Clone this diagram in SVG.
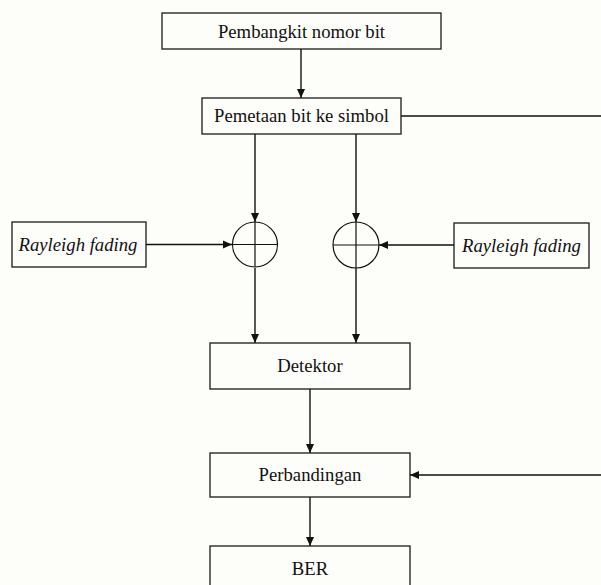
<svg xmlns="http://www.w3.org/2000/svg" width="601" height="585" viewBox="0 0 601 585">
  <style>
    .box { fill: none; stroke: #1a1a1a; stroke-width: 1.3; }
    .txt { font-family: "Liberation Serif", "Times New Roman", serif; font-size: 18.7px; fill: #111; text-anchor: middle; }
    .it { font-style: italic; }
    .ln { fill: none; stroke: #111; stroke-width: 1.4; }
    .sum { fill: none; stroke: #111; stroke-width: 1.2; }
  </style>
  <defs>
    <marker id="arr" markerWidth="10" markerHeight="10" refX="9" refY="5" orient="auto" markerUnits="userSpaceOnUse">
      <path d="M0,1 L9,5 L0,9 Z" fill="#111"/>
    </marker>
  </defs>
  <rect width="601" height="585" fill="#fdfdf9"/>

  <g id="connectors">
    <path class="ln" d="M301,49 V98" marker-end="url(#arr)"/>
    <path class="ln" d="M255,134 V222" marker-end="url(#arr)"/>
    <path class="ln" d="M356,134 V222" marker-end="url(#arr)"/>
    <path class="ln" d="M146,244.5 H232" marker-end="url(#arr)"/>
    <path class="ln" d="M454,245 H379" marker-end="url(#arr)"/>
    <path class="ln" d="M255,268 V343" marker-end="url(#arr)"/>
    <path class="ln" d="M356,268 V343" marker-end="url(#arr)"/>
    <path class="ln" d="M310,389 V453" marker-end="url(#arr)"/>
    <path class="ln" d="M310,497 V546" marker-end="url(#arr)"/>
    <path class="ln" d="M401,116 H604 V475 H410" marker-end="url(#arr)"/>
  </g>

  <g id="pembangkit">
    <rect class="box" x="162" y="13" width="279" height="36"/>
    <text class="txt" x="301.5" y="37.5">Pembangkit nomor bit</text>
  </g>
  <g id="pemetaan">
    <rect class="box" x="202" y="98" width="199" height="36"/>
    <text class="txt" x="301.5" y="122">Pemetaan bit ke simbol</text>
  </g>
  <g id="rayleigh-left">
    <rect class="box" x="12" y="222" width="134" height="45"/>
    <text class="txt it" x="78" y="251">Rayleigh fading</text>
  </g>
  <g id="sum-left">
    <circle class="sum" cx="255" cy="244.5" r="22.5"/>
    <path class="sum" d="M255,222 V267 M232.5,244.5 H277.5"/>
  </g>
  <g id="sum-right">
    <circle class="sum" cx="356" cy="245" r="23"/>
    <path class="sum" d="M356,222 V268 M333,245 H379"/>
  </g>
  <g id="rayleigh-right">
    <rect class="box" x="454" y="223" width="135" height="45"/>
    <text class="txt it" x="521.5" y="252">Rayleigh fading</text>
  </g>
  <g id="detektor">
    <rect class="box" x="210" y="343" width="200" height="46"/>
    <text class="txt" x="310" y="372">Detektor</text>
  </g>
  <g id="perbandingan">
    <rect class="box" x="210" y="453" width="200" height="44"/>
    <text class="txt" x="310" y="481">Perbandingan</text>
  </g>
  <g id="ber">
    <rect class="box" x="210" y="546" width="200" height="46"/>
    <text class="txt" x="310" y="575">BER</text>
  </g>
</svg>
